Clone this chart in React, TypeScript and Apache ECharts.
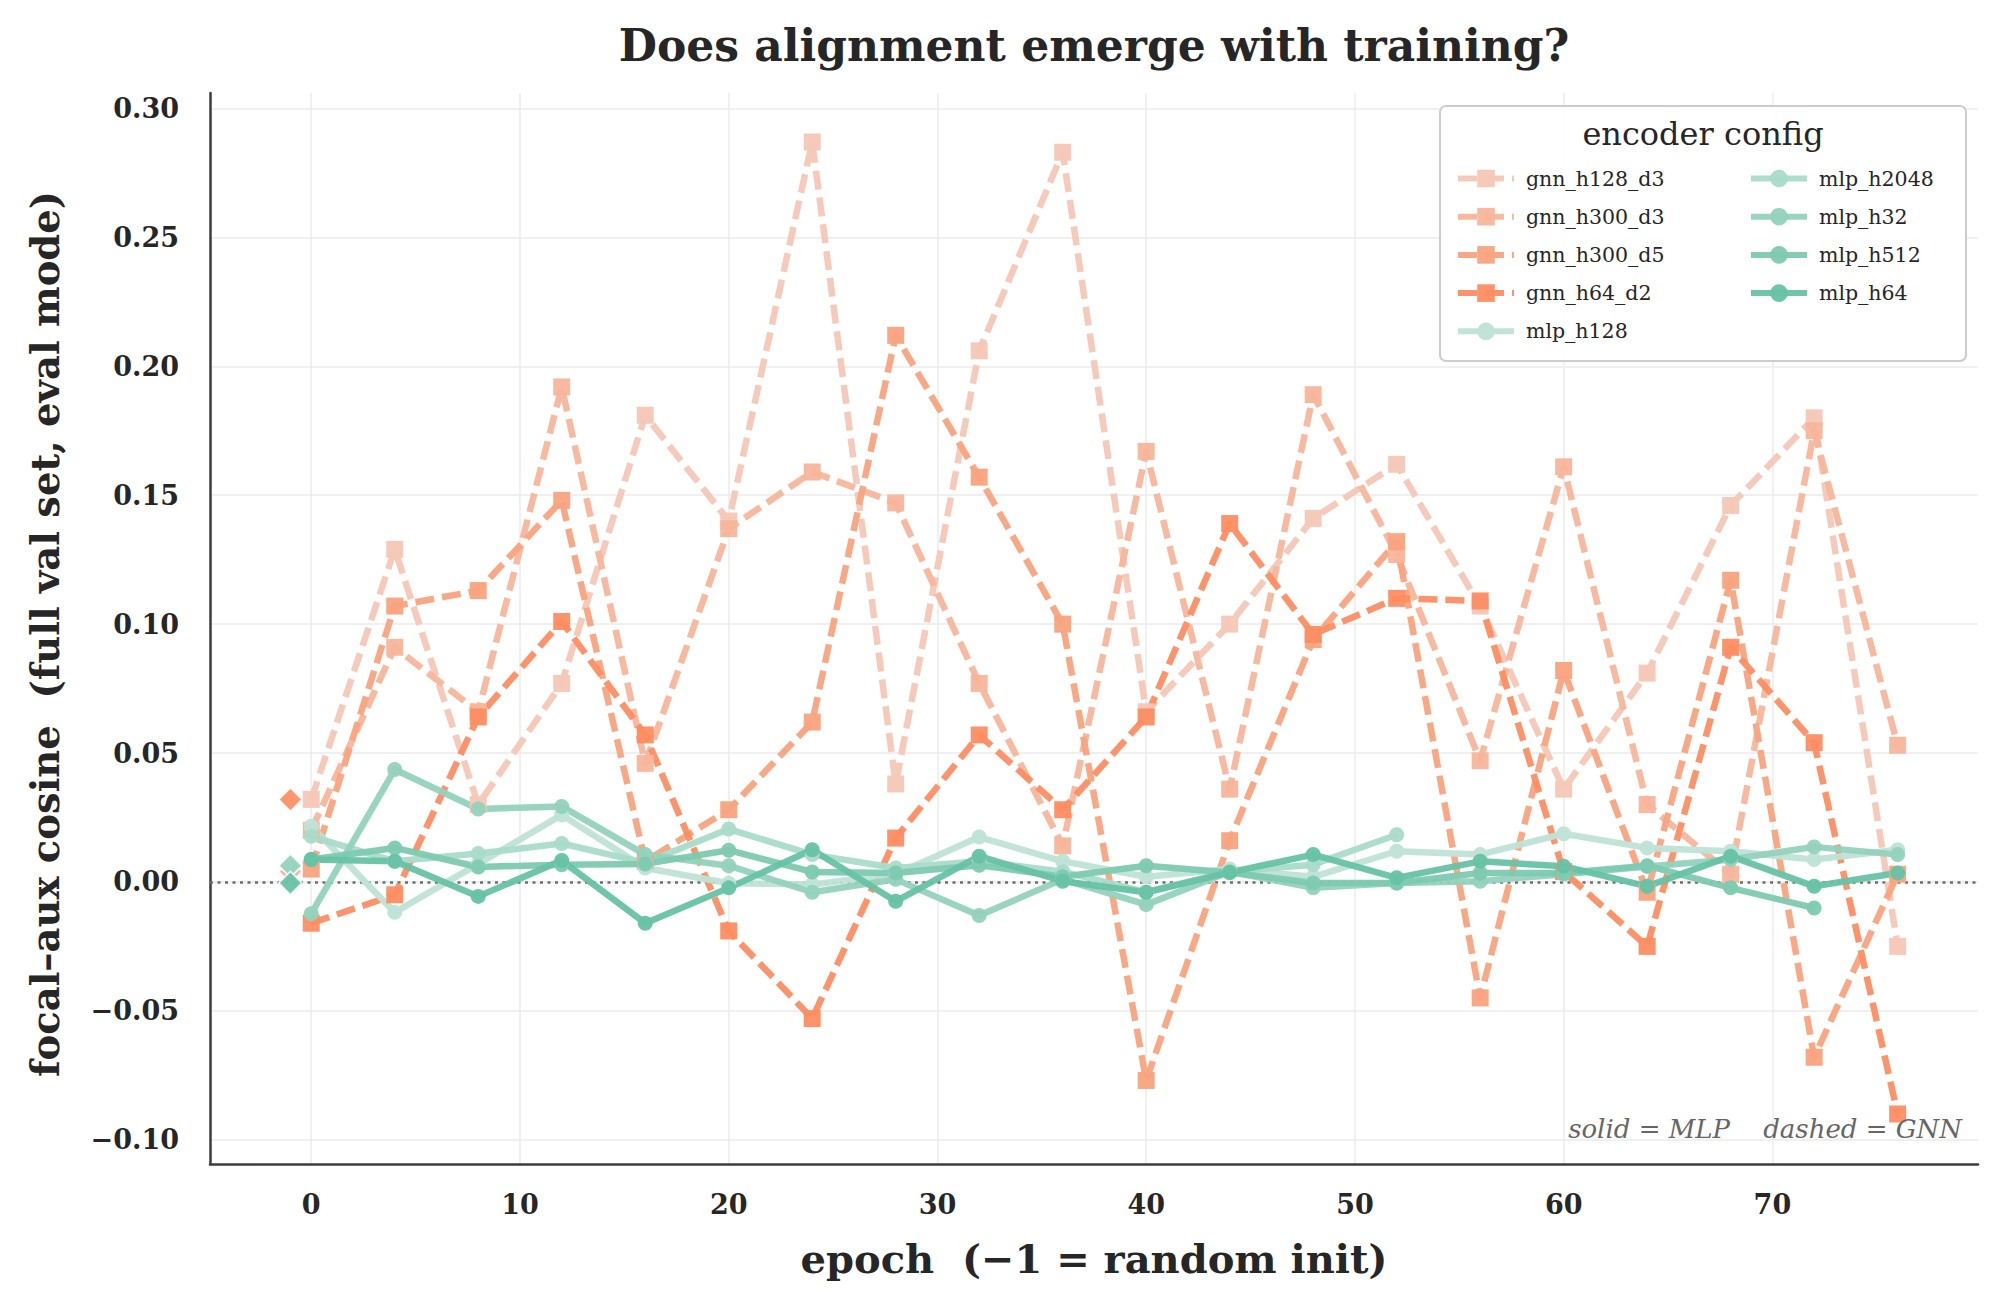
import React, { useEffect, useRef } from "react";
import * as echarts from "echarts";

// Training epochs at which the focal–aux cosine was evaluated (-1 = random init, drawn separately)
const epochs = [0, 4, 8, 12, 16, 20, 24, 28, 32, 36, 40, 44, 48, 52, 56, 60, 64, 68, 72, 76];
const initEpoch = -1;

const encoderNames = [
  "gnn_h128_d3",
  "gnn_h300_d3",
  "gnn_h300_d5",
  "gnn_h64_d2",
  "mlp_h128",
  "mlp_h2048",
  "mlp_h32",
  "mlp_h512",
  "mlp_h64",
];

// GNN encoders (dashed)
const gnnH128D3 = [0.032, 0.129, 0.030, 0.077, 0.181, 0.140, 0.287, 0.038, 0.206, 0.283, 0.066, 0.100, 0.141, 0.162, 0.107, 0.036, 0.081, 0.146, 0.180, -0.025];
const gnnH300D3 = [0.020, 0.091, 0.066, 0.192, 0.046, 0.137, 0.159, 0.147, 0.077, 0.014, 0.167, 0.036, 0.189, 0.127, 0.047, 0.161, 0.030, 0.003, 0.175, 0.053];
const gnnH300D5 = [0.005, 0.107, 0.113, 0.148, 0.008, 0.028, 0.062, 0.212, 0.157, 0.100, -0.077, 0.016, 0.094, 0.132, -0.045, 0.082, -0.004, 0.117, -0.068, 0.003];
const gnnH64D2 = [-0.016, -0.005, 0.064, 0.101, 0.057, -0.019, -0.053, 0.017, 0.057, 0.028, 0.064, 0.139, 0.096, 0.110, 0.109, 0.004, -0.025, 0.091, 0.054, -0.090];

// MLP encoders (solid); some runs stop early
const mlpH128 = [0.0216, -0.0118, 0.007, 0.026, 0.0054, -0.0005, -0.001, 0.003, 0.0174, 0.008, 0.002, 0.005, 0.002, 0.0119, 0.0106, 0.0187, 0.0132, 0.0119, 0.0087, 0.0125];
const mlpH2048 = [0.0177, 0.008, 0.011, 0.0149, 0.0074, 0.0205, 0.0106, 0.0054, 0.008, 0.004, -0.004, 0.004, 0.0067, 0.0183];
const mlpH32 = [-0.0123, 0.0436, 0.0283, 0.0293, 0.0106, 0.0063, -0.004, 0.001, -0.013, 0.001, -0.0088, 0.004, -0.0023, -0.0004, 0.0003, 0.003, 0.006, 0.0087, 0.0136, 0.0106];
const mlpH512 = [0.0087, 0.0132, 0.0058, 0.0067, 0.007, 0.0123, 0.0039, 0.0035, 0.0065, 0.002, 0.0063, 0.0037, -0.0004, -0.0004, 0.0035, 0.0035, 0.0063, -0.0023, -0.0101];
const mlpH64 = [0.0087, 0.008, -0.0056, 0.0083, -0.016, -0.0023, 0.0125, -0.0075, 0.010, 0.0003, -0.004, 0.0037, 0.0106, 0.0016, 0.008, 0.0061, -0.0017, 0.010, -0.0017, 0.0035];

// Values at random init (epoch -1), same order as encoderNames
const initValues = [0.032, 0.032, 0.004, 0.032, 0.0063, 0.0063, 0.0063, -0.0004, -0.0004];

const yTicks = [-0.1, -0.05, 0, 0.05, 0.1, 0.15, 0.2, 0.25, 0.3];
const xTicks = [0, 10, 20, 30, 40, 50, 60, 70];

const seriesValues = [gnnH128D3, gnnH300D3, gnnH300D5, gnnH64D2, mlpH128, mlpH2048, mlpH32, mlpH512, mlpH64];
const seriesColors = ["#f5c7b6", "#f7b59b", "#f9a37f", "#fc8d62", "#bfe3d6", "#a9dbca", "#94d2bd", "#7dcab0", "#66c2a5"];

const SERIF = "'DejaVu Serif', serif";
const LINE_W = 6.5;

function fmtY(v: number): string {
  const s = Math.abs(v).toFixed(2);
  return v < -1e-9 ? "\u2212" + s : s;
}

export default function App() {
  const ref = useRef<HTMLDivElement>(null);

  useEffect(() => {
    if (!ref.current) return;
    const chart = echarts.init(ref.current, undefined, { renderer: "svg" });

    const series: any[] = [];
    encoderNames.forEach((name, i) => {
      const isGnn = name.startsWith("gnn");
      const color = seriesColors[i];
      const values = seriesValues[i];
      series.push({
        type: "line",
        name,
        data: values.map((v, j) => [epochs[j], v]),
        symbol: isGnn ? "rect" : "circle",
        symbolSize: isGnn ? 17 : 15,
        showSymbol: true,
        lineStyle: {
          color,
          width: LINE_W,
          type: isGnn ? [19, 8] : "solid",
          opacity: 0.95,
          join: "round",
        },
        itemStyle: { color, opacity: 0.95 },
        emphasis: { disabled: true },
        z: 2,
        markLine:
          i === 0
            ? {
                silent: true,
                symbol: ["none", "none"],
                label: { show: false },
                lineStyle: { color: "#6e6e6e", width: 2.5, type: [3, 4.5] },
                data: [{ yAxis: 0 }],
                z: 1,
              }
            : undefined,
      });
      series.push({
        type: "scatter",
        name: name + " (init)",
        data: [[initEpoch, initValues[i]]],
        symbol: "diamond",
        symbolSize: 23,
        itemStyle: { color, borderColor: "#ffffff", borderWidth: 1.5 },
        emphasis: { disabled: true },
        z: 3,
      });
    });

    const legendCommon = {
      orient: "vertical",
      top: 163,
      itemWidth: 56,
      itemHeight: 22,
      itemGap: 17.2,
      selectedMode: false,
      lineStyle: { width: 6 },
      textStyle: { fontFamily: SERIF, fontSize: 20.5, color: "#262626", padding: [0, 0, 0, 7] },
      z: 6,
    };

    chart.setOption({
      animation: false,
      backgroundColor: "#ffffff",
      grid: { left: 210, right: 24, top: 93, bottom: 142, containLabel: false },
      xAxis: {
        type: "value",
        min: -4.85,
        max: 79.85,
        axisLine: { show: true, onZero: false, lineStyle: { color: "#3c3c3c", width: 2.5 } },
        axisTick: { show: false, customValues: xTicks },
        axisLabel: {
          customValues: xTicks,
          margin: 27,
          fontFamily: SERIF,
          fontWeight: "bold",
          fontSize: 27,
          color: "#262626",
          formatter: (v: number) => String(v),
        },
        splitLine: { show: true, lineStyle: { color: "#ebebeb", width: 1.5 } },
      },
      yAxis: {
        type: "value",
        min: -0.1094,
        max: 0.306,
        axisLine: { show: true, onZero: false, lineStyle: { color: "#3c3c3c", width: 2.5 } },
        axisTick: { show: false, customValues: yTicks },
        axisLabel: {
          customValues: yTicks,
          margin: 31,
          fontFamily: SERIF,
          fontWeight: "bold",
          fontSize: 27,
          color: "#262626",
          formatter: (v: number) => fmtY(v),
        },
        splitLine: { show: true, lineStyle: { color: "#ebebeb", width: 1.5 } },
      },
      legend: [
        { ...legendCommon, left: 1450, data: encoderNames.slice(0, 5) },
        { ...legendCommon, left: 1743, data: encoderNames.slice(5) },
      ],
      graphic: {
        elements: [
          {
            type: "rect",
            z: 5,
            shape: { x: 1440, y: 106, width: 526, height: 255, r: 6 },
            style: { fill: "rgba(255,255,255,0.88)", stroke: "#cccccc", lineWidth: 2 },
          },
          {
            type: "text",
            z: 6,
            x: 1703,
            y: 134,
            style: {
              text: "encoder config",
              fontFamily: SERIF,
              fontSize: 32,
              fill: "#262626",
              align: "center",
              verticalAlign: "middle",
              textAlign: "center",
              textVerticalAlign: "middle",
            },
          },
          {
            type: "text",
            z: 6,
            x: 1094,
            y: 45,
            style: {
              text: "Does alignment emerge with training?",
              fontFamily: SERIF,
              fontWeight: "bold",
              fontSize: 44,
              fill: "#262626",
              align: "center",
              verticalAlign: "middle",
              textAlign: "center",
              textVerticalAlign: "middle",
            },
          },
          {
            type: "text",
            z: 6,
            x: 1094,
            y: 1258,
            style: {
              text: "epoch  (\u22121 = random init)",
              fontFamily: SERIF,
              fontWeight: "bold",
              fontSize: 40,
              fill: "#262626",
              align: "center",
              verticalAlign: "middle",
              textAlign: "center",
              textVerticalAlign: "middle",
            },
          },
          {
            type: "text",
            z: 6,
            x: 45,
            y: 634,
            rotation: Math.PI / 2,
            style: {
              text: "focal\u2013aux cosine  (full val set, eval mode)",
              fontFamily: SERIF,
              fontWeight: "bold",
              fontSize: 38.5,
              fill: "#262626",
              align: "center",
              verticalAlign: "middle",
              textAlign: "center",
              textVerticalAlign: "middle",
            },
          },
          {
            type: "text",
            z: 6,
            x: 1962,
            y: 1129,
            style: {
              text: "solid = MLP    dashed = GNN",
              fontFamily: SERIF,
              fontStyle: "italic",
              fontSize: 26,
              fill: "#666666",
              align: "right",
              verticalAlign: "middle",
              textAlign: "right",
              textVerticalAlign: "middle",
            },
          },
        ],
      },
      series,
    });

    return () => chart.dispose();
  }, []);

  return (
    <div
      ref={ref}
      style={{ position: "absolute", left: 0, top: 0, width: 2002, height: 1306, background: "#ffffff" }}
    />
  );
}
